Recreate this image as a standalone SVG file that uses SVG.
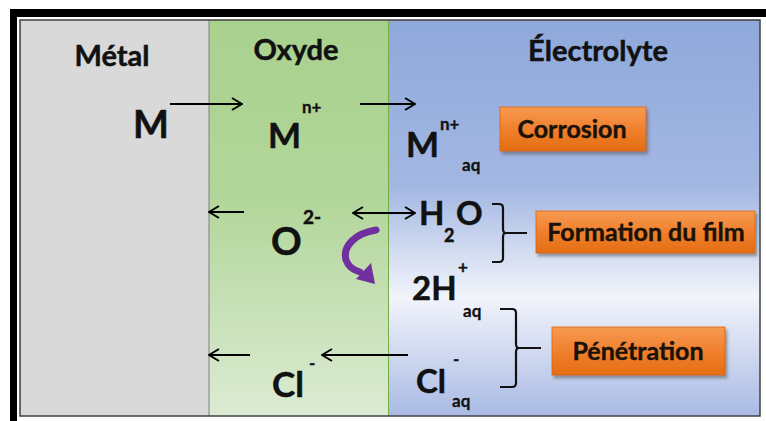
<svg xmlns="http://www.w3.org/2000/svg" width="766" height="421" viewBox="0 0 766 421">
  <defs>
    <style>
      .t { font-family: Lato, "Open Sans", "Liberation Sans", sans-serif; font-weight: bold; fill: #111; stroke: #111; stroke-width: 0.5; }
      .hd { font-size: 29px; text-anchor: middle; }
      .big { font-size: 35px; }
      .sup { font-size: 17px; stroke-width: 0.3; }
      .lbl { font-size: 25px; text-anchor: middle; fill: #1a1208; stroke: #1a1208; stroke-width: 0.4; }
      .arr { stroke: #000; stroke-width: 1.8; fill: none; }
      .brk { stroke: #111; stroke-width: 2.2; fill: none; }
      .box { fill: url(#orange); stroke: #d9650f; stroke-width: 0.8; filter: url(#shadow); }
    </style>
    <linearGradient id="oxG" x1="0" y1="0" x2="0" y2="1">
      <stop offset="0" stop-color="#a9d18e"/>
      <stop offset="0.45" stop-color="#b2d69a"/>
      <stop offset="1" stop-color="#dcebd3"/>
    </linearGradient>
    <linearGradient id="elG" x1="0" y1="0" x2="0" y2="1">
      <stop offset="0" stop-color="#8fa9db"/>
      <stop offset="0.42" stop-color="#a3b7e2"/>
      <stop offset="0.7" stop-color="#f2f4fb"/>
      <stop offset="1" stop-color="#a9bae4"/>
    </linearGradient>
    <linearGradient id="orange" x1="0" y1="0" x2="0" y2="1">
      <stop offset="0" stop-color="#f79a52"/>
      <stop offset="0.5" stop-color="#f0802e"/>
      <stop offset="1" stop-color="#e56d12"/>
    </linearGradient>
    <filter id="shadow" x="-10%" y="-20%" width="130%" height="160%">
      <feDropShadow dx="2" dy="3" stdDeviation="1.5" flood-color="#555" flood-opacity="0.55"/>
    </filter>
    <marker id="ah" viewBox="0 0 12 14" refX="11" refY="7" markerWidth="12" markerHeight="14" markerUnits="userSpaceOnUse" orient="auto-start-reverse">
      <path d="M1,1 L11,7 L1,13" fill="none" stroke="#000" stroke-width="2"/>
    </marker>
  </defs>

  <rect x="0" y="0" width="766" height="421" fill="#fff"/>

  <g id="frame">
    <rect x="10" y="9" width="756" height="8" fill="#000"/>
    <rect x="10" y="9" width="7" height="412" fill="#000"/>
  </g>

  <g id="panels">
    <rect id="metal-zone" x="20" y="20" width="189" height="396" fill="#d9d9d9"/>
    <rect id="oxide-zone" x="209" y="20" width="179" height="396" fill="url(#oxG)"/>
    <rect id="electrolyte-zone" x="388" y="20" width="372" height="396" fill="url(#elG)"/>
    <line x1="209" y1="20" x2="209" y2="416" stroke="#7f7f7f" stroke-width="1"/>
    <line x1="388.5" y1="20" x2="388.5" y2="416" stroke="#70ad47" stroke-width="1"/>
    <rect x="20" y="20" width="740" height="396" fill="none" stroke="#404040" stroke-width="1.5"/>
  </g>

  <g id="headers">
    <text class="t hd" x="112" y="66">Métal</text>
    <text class="t hd" x="296" y="60">Oxyde</text>
    <text class="t hd" x="598" y="61">Électrolyte</text>
  </g>

  <g id="node-M">
    <text class="t" x="133" y="138" font-size="38">M</text>
  </g>
  <g id="node-Mn-oxide">
    <text class="t big" x="268" y="148">M</text>
    <text class="t sup" x="302" y="113">n+</text>
  </g>
  <g id="node-Mn-aq">
    <text class="t big" x="406" y="157">M</text>
    <text class="t sup" x="440" y="130">n+</text>
    <text class="t sup" x="462" y="171">aq</text>
  </g>
  <g id="node-O2">
    <text class="t" x="271" y="255" font-size="38">O</text>
    <text class="t" x="303" y="224" font-size="19" stroke-width="0.3">2-</text>
  </g>
  <g id="node-H2O">
    <text class="t" x="419" y="225" font-size="33">H</text>
    <text class="t" x="444" y="242" font-size="18" stroke-width="0.3">2</text>
    <text class="t" x="456" y="225" font-size="33">O</text>
  </g>
  <g id="node-2H">
    <text class="t" x="412" y="300" font-size="33">2H</text>
    <text class="t sup" x="458" y="273">+</text>
    <text class="t sup" x="463" y="317">aq</text>
  </g>
  <g id="node-Cl-oxide">
    <text class="t big" x="272" y="397">Cl</text>
    <text class="t sup" x="309" y="369">-</text>
  </g>
  <g id="node-Cl-aq">
    <text class="t" x="416" y="393" font-size="33">Cl</text>
    <text class="t sup" x="453" y="365">-</text>
    <text class="t sup" x="452" y="407">aq</text>
  </g>

  <g id="label-corrosion">
    <rect class="box" x="500" y="107" width="146" height="44"/>
    <text class="t lbl" x="572" y="138">Corrosion</text>
  </g>
  <g id="label-formation">
    <rect class="box" x="536" y="211" width="219" height="42"/>
    <text class="t lbl" x="646" y="241">Formation du film</text>
  </g>
  <g id="label-penetration">
    <rect class="box" x="552" y="327" width="173" height="48"/>
    <text class="t lbl" x="638" y="360">Pénétration</text>
  </g>

  <g id="connectors">
    <line class="arr" x1="170" y1="104" x2="242" y2="104" marker-end="url(#ah)"/>
    <line class="arr" x1="360" y1="104" x2="415" y2="104" marker-end="url(#ah)"/>
    <line class="arr" x1="244" y1="212" x2="209" y2="212" marker-end="url(#ah)"/>
    <line class="arr" x1="353" y1="213" x2="415" y2="213" marker-start="url(#ah)" marker-end="url(#ah)"/>
    <line class="arr" x1="250" y1="355" x2="209" y2="355" marker-end="url(#ah)"/>
    <line class="arr" x1="408" y1="355" x2="322" y2="355" marker-end="url(#ah)"/>
    <path class="brk" d="M492,204 H499 Q503,204 503,208 V229 Q503,233 506,233 Q503,233 503,237 V258 Q503,262 499,262 H492 M506,233 H527"/>
    <path class="brk" d="M500,309 H512 Q516,309 516,313 V344 Q516,348 519,348 Q516,348 516,352 V383 Q516,387 512,387 H500 M519,348 H541"/>
    <g id="purple-arrow">
      <path d="M376,230 C356,233 342,246 346,260 C348,266 353,270 360,272" fill="none" stroke="#7030a0" stroke-width="7" stroke-linecap="round"/>
      <polygon points="356,279 371,263 375,284" fill="#7030a0"/>
    </g>
  </g>
</svg>
